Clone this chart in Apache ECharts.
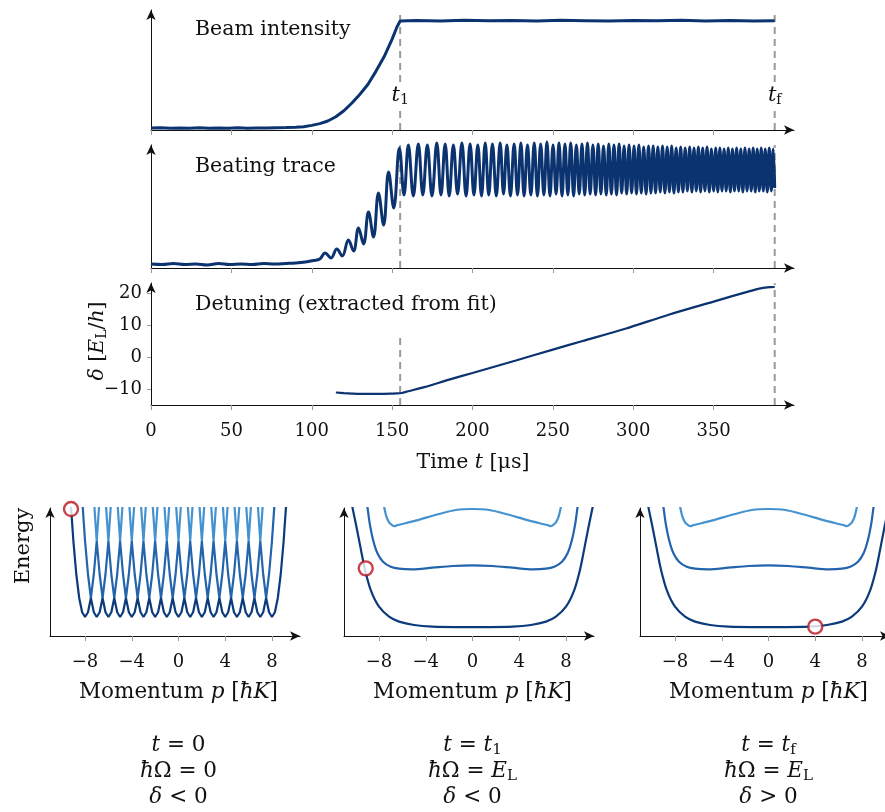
<!DOCTYPE html>
<html><head><meta charset="utf-8">
<script src="https://cdn.jsdelivr.net/npm/echarts@6/dist/echarts.min.js"></script>
<style>html,body{margin:0;padding:0;background:#fff}#c{width:885px;height:812px}</style>
</head><body><div id="c"></div>
<script>
// ================= DATA =================
const timeTicks = [0, 50, 100, 150, 200, 250, 300, 350];
const markTimes = [155, 388];            // t1, tf  (µs)
const markSubs  = ['1', 'f'];
const detTicks  = [-10, 0, 10, 20];
const momTicks  = [-8, -4, 0, 4, 8];

// Beam intensity (arb. units)
const beamT = [0,6,12,18,24,30,36,42,48,54,60,66,72,78,84,90,95,100,105,110,115,120,125,130,135,140,145,150,153,155,165,180,195,210,225,240,255,270,285,300,315,330,345,360,375,388];
const beamV = [.018,.02,.015,.019,.016,.02,.017,.019,.016,.021,.017,.019,.018,.02,.022,.025,.03,.042,.058,.082,.12,.175,.245,.325,.415,.535,.665,.825,.935,.99,.995,.99,.997,.992,.995,.99,.996,.993,.99,.995,.992,.996,.991,.994,.99,.993];

// Beating trace: baseline then successive extrema [t, value]
const beatPts = [
[0,.04],[7,.035],[14,.045],[21,.035],[28,.04],[35,.03],[42,.045],[49,.035],[56,.04],[63,.035],[70,.045],[77,.04],[84,.045],[90,.05],[96,.06],[101,.075],[105,.09],
[108.3,.15],[112,.10],[115.6,.19],[119,.12],[122.8,.28],[126,.17],[129.1,.40],[132.2,.24],[135.3,.56],[138.4,.31],[141.5,.75],[144.7,.43],[147.8,.96],[151,.60],[154.5,1.20],[157.4,.73],
[160.1,1.23],[163.2,.72],[166.3,1.24],[169.1,.73],[171.9,1.23],[174.8,.72],[177.8,1.25],[180.4,.73],[183.0,1.24],[185.5,.72],[188.1,1.23],[190.7,.74],[193.4,1.25],[196.0,.72],[198.5,1.24],[200.9,.73],[203.3,1.23],[205.6,.72],[207.9,1.25],[210.1,.73],[212.4,1.24],[214.8,.72],[217.2,1.25],[219.3,.74],[221.4,1.23],[223.6,.72],[225.9,1.24],[228.0,.73],[230.1,1.25],[232.1,.72],[234.2,1.23],[236.3,.73],[238.4,1.25],[240.4,.72],
[242.4,1.24],[244.4,.73],[246.3,1.26],[248.2,.72],[250.1,1.23],[252.0,.74],[253.8,1.25],[255.7,.72],[257.5,1.24],[259.3,.73],[261.1,1.25],[262.9,.72],[264.6,1.23],[266.4,.74],[268.1,1.24],[269.8,.73],[271.5,1.25],[273.2,.74],[274.9,1.23],[276.6,.73],[278.2,1.24],[279.9,.74],[281.5,1.22],[283.2,.73],[284.8,1.24],[286.4,.74],[288.0,1.23],[289.6,.73],[291.2,1.24],[292.8,.75],[294.3,1.22],[295.9,.74],[297.4,1.23],[299.0,.75],
[300.5,1.22],[302.0,.74],[303.5,1.23],[305.0,.75],[306.5,1.21],[308.0,.74],[309.5,1.22],[311.0,.75],[312.4,1.22],[313.9,.75],[315.3,1.21],[316.8,.76],[318.2,1.22],[319.7,.75],[321.1,1.21],[322.5,.76],[323.9,1.22],[325.3,.75],[326.7,1.20],[328.1,.76],[329.5,1.21],[330.9,.76],[332.3,1.20],[333.7,.77],[335.1,1.21],[336.5,.76],[337.8,1.20],[339.2,.77],[340.5,1.21],[341.9,.76],[343.2,1.20],[344.6,.77],[345.9,1.21],[347.3,.76],[348.6,1.19],[350.0,.77],[351.3,1.20],[352.6,.76],[353.9,1.20],[355.2,.77],[356.5,1.19],[357.8,.77],[359.1,1.20],[360.4,.76],[361.7,1.19],[363.0,.77],[364.3,1.20],[365.6,.77],[366.9,1.19],[368.2,.76],[369.5,1.20],[370.8,.77],[372.1,1.19],[373.4,.77],[374.6,1.20],[375.9,.76],[377.1,1.19],[378.4,.77],[379.6,1.20],[380.9,.77],[382.1,1.19],[383.4,.76],[384.6,1.20],[385.9,.77],[387.1,1.19],[388.0,.80]
];

// Detuning delta [E_L/h]
const detT = [115,120,125,130,135,140,145,150,153,156,160,170,186,200,227,250,268,295,322,350,372,380,385,388];
const detV = [-11.1,-11.3,-11.45,-11.55,-11.55,-11.5,-11.5,-11.45,-11.4,-11.25,-10.7,-9.4,-7.0,-5.0,-1.1,2.3,4.9,8.8,13.2,17.3,20.5,21.5,21.8,21.85];

// Dashed marker extents per panel (top value for t1 and tf)
const dashTop0 = [1.06, 1.06];
const dashTop1 = [1.23, 1.23];
const dashTop2 = [7, 23];

// Panel A (t = 0): momentum grid and three bands
const pA = [-9.25,-9,-8.75,-8.5,-8.25,-8,-7.75,-7.5,-7.25,-7,-6.75,-6.5,-6.25,-6,-5.75,-5.5,-5.25,-5,-4.75,-4.5,-4.25,-4,-3.75,-3.5,-3.25,-3,-2.75,-2.5,-2.25,-2,-1.75,-1.5,-1.25,-1,-0.75,-0.5,-0.25,0,0.25,0.5,0.75,1,1.25,1.5,1.75,2,2.25,2.5,2.75,3,3.25,3.5,3.75,4,4.25,4.5,4.75,5,5.25,5.5,5.75,6,6.25,6.5,6.75,7,7.25,7.5,7.75,8,8.25,8.5,8.75,9,9.25];
const E1A = [1.5625,1,.5625,.25,.0625,0,
.0625,.25,.0625,0, .0625,.25,.0625,0, .0625,.25,.0625,0, .0625,.25,.0625,0,
.0625,.25,.0625,0, .0625,.25,.0625,0, .0625,.25,.0625,0, .0625,.25,.0625,0,
.0625,.25,.0625,0, .0625,.25,.0625,0, .0625,.25,.0625,0, .0625,.25,.0625,0,
.0625,.25,.0625,0, .0625,.25,.0625,0, .0625,.25,.0625,0, .0625,.25,.0625,0,
.0625,.25,.5625,1,1.5625];
const E2A = [null,null,null,2.25,1.5625,1,.5625,
.25,.5625,1,.5625, .25,.5625,1,.5625, .25,.5625,1,.5625, .25,.5625,1,.5625, .25,.5625,1,.5625,
.25,.5625,1,.5625, .25,.5625,1,.5625, .25,.5625,1,.5625, .25,.5625,1,.5625, .25,.5625,1,.5625,
.25,.5625,1,.5625, .25,.5625,1,.5625, .25,.5625,1,.5625, .25,.5625,1,.5625, .25,.5625,1,.5625,
.25,.5625,1,1.5625,2.25,null,null,null];
const E3A = [null,null,null,null,null,4,3.0625,2.25,
1.5625,1,1.5625,2.25, 1.5625,1,1.5625,2.25, 1.5625,1,1.5625,2.25, 1.5625,1,1.5625,2.25,
1.5625,1,1.5625,2.25, 1.5625,1,1.5625,2.25, 1.5625,1,1.5625,2.25, 1.5625,1,1.5625,2.25,
1.5625,1,1.5625,2.25, 1.5625,1,1.5625,2.25, 1.5625,1,1.5625,2.25, 1.5625,1,1.5625,2.25,
1.5625,1,1.5625,2.25, 1.5625,1,1.5625,2.25,
1.5625,1,1.5625,2.25,3.0625,4,null,null,null,null,null];

// Panels B and C (hbar*Omega = E_L): dressed bands [p, E]
const lowB = [[-10.4,1.52],[-10.29,1.45],[-9.94,1.19],[-9.57,0.9],[-9.23,0.64],[-8.71,0.355],[-8.0,0.136],[-7.14,0.004],[-6.29,-0.061],[-5.0,-0.105],[-3.43,-0.127],[-1.5,-0.132],[0,-0.132],[1.5,-0.132],[3.43,-0.127],[5.0,-0.105],[6.29,-0.061],[7.14,0.004],[8.0,0.136],[8.71,0.355],[9.23,0.64],[9.57,0.9],[9.94,1.19],[10.29,1.45],[10.4,1.52]];
const midB = [[-9.1,1.52],[-9.0,1.452],[-8.8,1.232],[-8.51,1.013],[-8.14,0.838],[-7.66,0.728],[-7.0,0.662],[-6.29,0.636],[-5.14,0.627],[-3.43,0.649],[-1.71,0.671],[0,0.68],[1.71,0.671],[3.43,0.649],[5.14,0.627],[6.29,0.636],[7.0,0.662],[7.66,0.728],[8.14,0.838],[8.51,1.013],[8.8,1.232],[9.0,1.452],[9.1,1.52]];
const topB = [[-7.65,1.52],[-7.57,1.452],[-7.37,1.32],[-7.14,1.246],[-6.86,1.206],[-6.68,1.195],[-6.5,1.205],[-4.86,1.268],[-2.86,1.355],[-1.43,1.408],[0,1.421],[1.43,1.408],[2.86,1.355],[4.86,1.268],[6.5,1.205],[6.68,1.195],[6.86,1.206],[7.14,1.246],[7.37,1.32],[7.57,1.452],[7.65,1.52]];
const lowC = lowB, midC = midB, topC = topB;

// Red markers (state of the system)
const circA = [[-9.2, 1.42]];
const circB = [[-9.14, 0.64]];
const circC = [[4, -0.127]];

// ================= CHART =================
const FONT = 'DejaVu Serif';
const NAVY = '#0b3370';
const BAND = ['#0c3b7c', '#2364ad', '#4592d0'];
const AX = '#111', TK = '#9a9a9a';

function axLine(){ return {show:true,onZero:false,symbol:['none','arrow'],symbolSize:[7,10],lineStyle:{color:AX,width:1}}; }
function xTime(gi, lab){
  return {type:'value',gridIndex:gi,min:0,max:400,axisLine:axLine(),
    axisTick:{show:true,customValues:timeTicks,length:5,lineStyle:{color:TK,width:1}},
    axisLabel:{show:lab,customValues:timeTicks,margin:17,fontFamily:FONT,fontSize:18,color:AX},
    splitLine:{show:false}};
}
function yPlain(gi,min,max){
  return {type:'value',gridIndex:gi,min:min,max:max,axisLine:axLine(),axisTick:{show:false},axisLabel:{show:false},splitLine:{show:false}};
}
function xMom(gi){
  return {type:'value',gridIndex:gi,min:-11,max:10.4,axisLine:axLine(),
    axisTick:{show:true,customValues:momTicks,length:5,lineStyle:{color:TK,width:1}},
    axisLabel:{show:true,customValues:momTicks,margin:17,fontFamily:FONT,fontSize:18,color:AX,
      formatter:v=>String(v).replace('-','\u2212')},
    splitLine:{show:false}};
}
const gridBase = {containLabel:false, outerBoundsMode:'none'};
const grids = [
  Object.assign({left:151,top:10,width:643,height:120},gridBase),
  Object.assign({left:151,top:145,width:643,height:123},gridBase),
  Object.assign({left:151,top:283,width:643,height:122},gridBase),
  Object.assign({left:50,top:508,width:250,height:128},gridBase),
  Object.assign({left:344,top:508,width:250,height:128},gridBase),
  Object.assign({left:640,top:508,width:250,height:128},gridBase)
];
const xAxes = [xTime(0,false), xTime(1,false), xTime(2,true), xMom(3), xMom(4), xMom(5)];
const yAxes = [yPlain(0,0,1.09), yPlain(1,0,1.23),
  {type:'value',gridIndex:2,min:-15,max:23.1,axisLine:axLine(),
   axisTick:{show:true,customValues:detTicks,length:4,lineStyle:{color:TK}},
   axisLabel:{show:true,customValues:detTicks,margin:9,fontFamily:FONT,fontSize:18,color:AX,
     formatter:v=>String(v).replace('-','\u2212')},splitLine:{show:false}},
  yPlain(3,-0.25,1.434), yPlain(4,-0.25,1.434), yPlain(5,-0.25,1.434)];

const series = [];
function dashed(ax, t, y0, y1){
  series.push({type:'line',xAxisIndex:ax,yAxisIndex:ax,data:[[t,y0],[t,y1]],showSymbol:false,silent:true,z:1,
    lineStyle:{color:'#9a9a9a',width:2,type:[7,5]}});
}
markTimes.forEach((t,i)=>{ dashed(0,t,0,dashTop0[i]); dashed(1,t,0,dashTop1[i]); dashed(2,t,-15,dashTop2[i]); });

series.push({type:'line',xAxisIndex:0,yAxisIndex:0,data:beamT.map((t,i)=>[t,beamV[i]]),showSymbol:false,
  lineStyle:{color:NAVY,width:3},z:3});
series.push({type:'line',xAxisIndex:1,yAxisIndex:1,data:beatPts,showSymbol:false,smooth:0.4,clip:false,
  lineStyle:{color:NAVY,width:3},z:3});
series.push({type:'line',xAxisIndex:2,yAxisIndex:2,data:detT.map((t,i)=>[t,detV[i]]),showSymbol:false,smooth:0.3,
  lineStyle:{color:NAVY,width:2.2},z:3});

[E3A,E2A,E1A].forEach((E,k)=>{
  series.push({type:'line',xAxisIndex:3,yAxisIndex:3,data:pA.map((p,i)=>[p,E[i]]),showSymbol:false,
    lineStyle:{color:BAND[2-k],width:2.2},z:3+k});
});
function bands(ax, arrs){
  arrs.forEach((d,k)=>series.push({type:'line',xAxisIndex:ax,yAxisIndex:ax,data:d,showSymbol:false,smooth:0.3,
    lineStyle:{color:BAND[k],width:2.2},z:5-k}));
}
bands(4,[lowB,midB,topB]);
bands(5,[lowC,midC,topC]);
[[3,circA],[4,circB],[5,circC]].forEach(([ax,d])=>series.push({type:'scatter',xAxisIndex:ax,yAxisIndex:ax,data:d,
  symbol:'circle',symbolSize:14,clip:false,z:10,itemStyle:{color:'#fff',borderColor:'#b8141f',borderWidth:2.4}}));

// ---------- text ----------
function rich(fs){
  return {
    n:{fontFamily:FONT,fontSize:fs,fill:AX},
    i:{fontFamily:FONT,fontSize:fs,fontStyle:'italic',fill:AX},
    s:{fontFamily:FONT,fontSize:Math.round(fs*0.68),fill:AX,padding:[Math.round(fs*0.45),0,0,0]}
  };
}
function txt(x,y,text,opt){
  opt = opt||{};
  const fs = opt.fs||21;
  return {type:'text',x:x,y:y,rotation:opt.rot||0,z:20,
    style:{text:text,rich:rich(fs),fontFamily:FONT,fontSize:fs,fill:AX,align:opt.align||'center',verticalAlign:'middle',
      backgroundColor:opt.bg||null,padding:opt.bg?[1,2]:0}};
}
const graphics = [
  txt(195,30,'{n|Beam intensity}',{align:'left',fs:20.5}),
  txt(195,167,'{n|Beating trace}',{align:'left',fs:20.5}),
  txt(195,305,'{n|Detuning (extracted from fit)}',{align:'left',fs:20.5}),
  txt(473,463,'{n|Time }{i|t}{n| [μs]}',{fs:20.5}),
  txt(98,341,'{i|δ}{n| [}{i|E}{s|L}{n|/}{i|h}{n|]}',{rot:Math.PI/2,fs:20.5}),
  txt(24,546,'{n|Energy}',{rot:Math.PI/2,fs:21})
];
markTimes.forEach((t,i)=>{
  const x = 151 + t*643/400;
  graphics.push(txt(x,96,'{i|t}{s|'+markSubs[i]+'}',{bg:'#fff',fs:21}));
});
const panelCx = [178.5, 472.5, 768.5];
const capT = ['{i|t}{n| = 0}', '{i|t}{n| = }{i|t}{s|1}', '{i|t}{n| = }{i|t}{s|f}'];
const capO = ['{i|ħ}{n|Ω = 0}', '{i|ħ}{n|Ω = }{i|E}{s|L}', '{i|ħ}{n|Ω = }{i|E}{s|L}'];
const capD = ['{i|δ}{n| < 0}', '{i|δ}{n| < 0}', '{i|δ}{n| > 0}'];
panelCx.forEach((cx,i)=>{
  graphics.push(txt(cx,692,'{n|Momentum }{i|p}{n| [}{i|ħK}{n|]}',{fs:21.5}));
  graphics.push(txt(cx,745,capT[i],{fs:21.5}));
  graphics.push(txt(cx,771,capO[i],{fs:21.5}));
  graphics.push(txt(cx,797,capD[i],{fs:21.5}));
});

const chart = echarts.init(document.getElementById('c'));
chart.setOption({animation:false,backgroundColor:'#fff',grid:grids,xAxis:xAxes,yAxis:yAxes,series:series,graphic:graphics});
</script></body></html>
